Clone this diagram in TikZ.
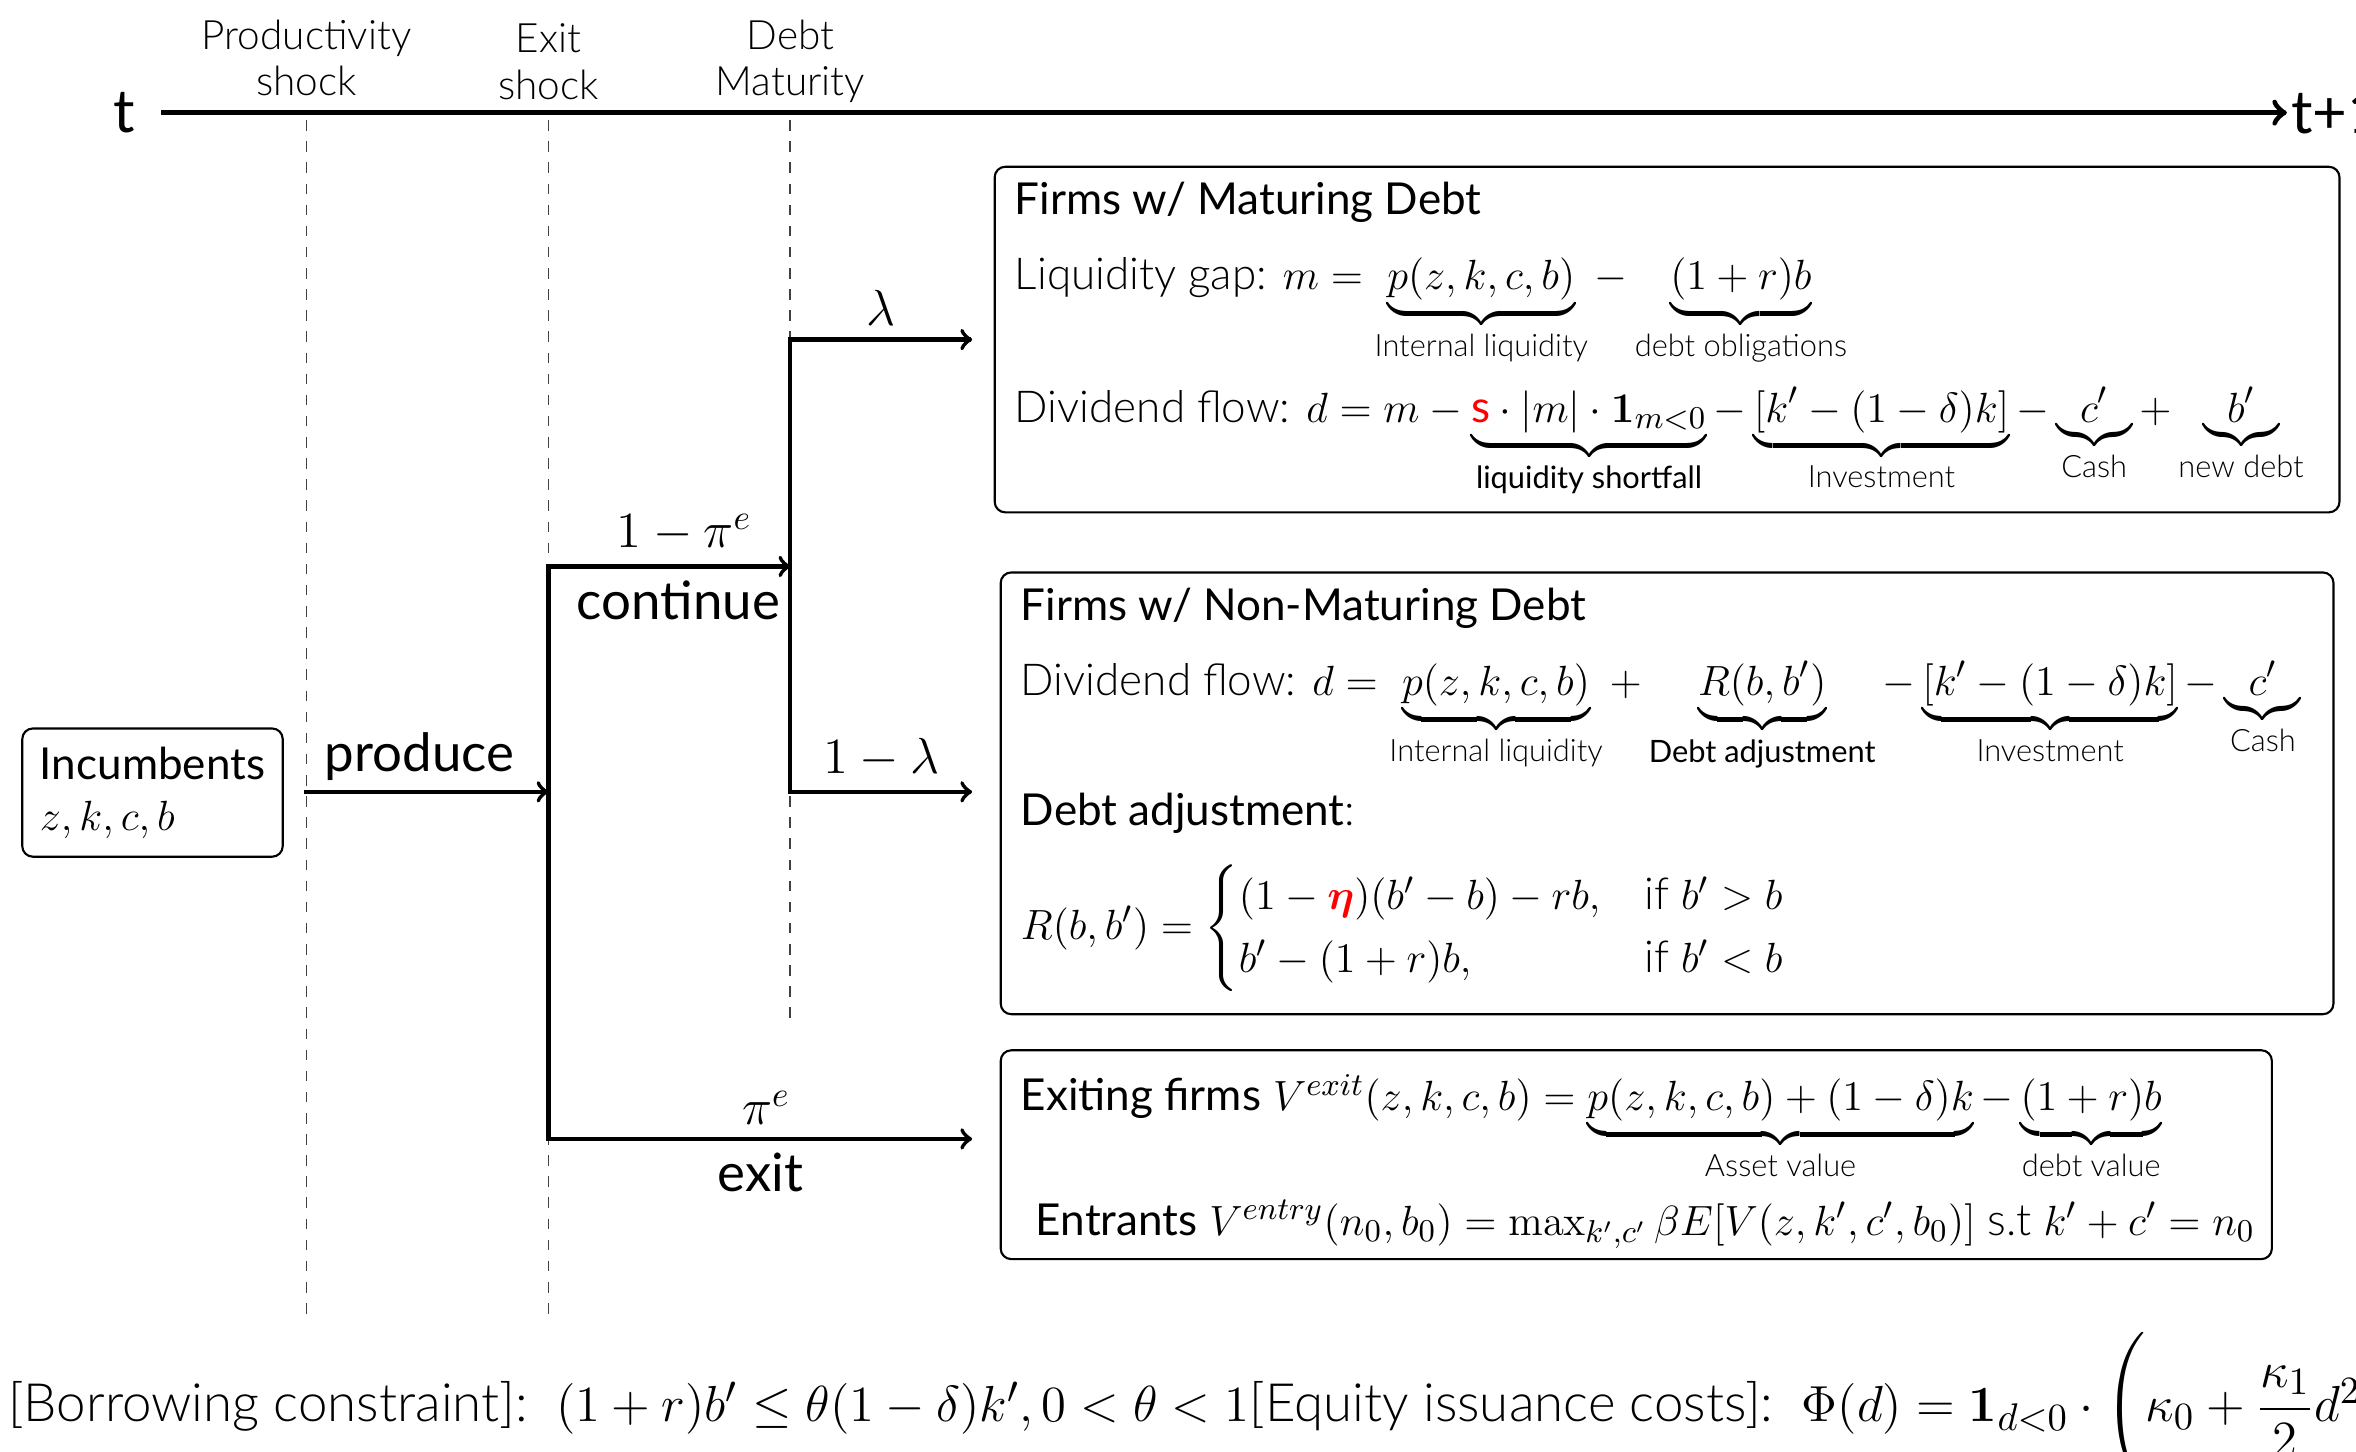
\documentclass[tikz,border=0pt]{standalone}
\usepackage{amsmath}
\usepackage[no-math]{fontspec}
\IfFontExistsTF{Lato Light}
  {\setmainfont{Lato Light}[BoldFont=Lato]}
  {\setmainfont{Lato}}
\usetikzlibrary{arrows,fit}

\tikzset{
  branch/.style={line width=1.2pt,->,line cap=rect},
  timeline/.style={line width=1.6pt,->},
  guide/.style={dashed,line width=0.5pt,black!75},
  panel/.style={draw,rounded corners=3pt,line width=0.6pt,inner sep=0pt},
  row/.style={anchor=base west,inner sep=0pt,font=\fontsize{12.5}{15}\selectfont},
  action/.style={font=\bfseries\fontsize{15}{18}\selectfont},
  prob/.style={inner sep=3.5pt,font=\fontsize{14.4}{17}\selectfont},
  event/.style={align=center,font=\fontsize{11.5}{13.2}\selectfont},
}

\begin{document}
\begin{tikzpicture}[x=1.5cm,y=1.5cm]
  \useasboundingbox (0,0) rectangle (15.68,9.66);
  \clip (0,0) rectangle (15.68,9.66);

  % time axis
  \node[inner sep=7pt,font=\bfseries\fontsize{17}{20}\selectfont] (tnow) at (0.83,8.91) {t};
  \node[anchor=west,inner sep=1pt,font=\bfseries\fontsize{17}{20}\selectfont] (tnext) at (15.22,8.91) {t+1};
  \draw[timeline] (tnow) -- (tnext);

  \node[event] (prodShock) at (2.04,9.275) {Productivity\\shock};
  \node[event] (exitShock) at (3.65,9.25) {Exit\\shock};
  \node[event] (debtMat) at (5.26,9.25) {Debt\\Maturity};

  \draw[guide] (2.04,8.86) -- (2.04,0.86);
  \draw[guide] (3.65,8.86) -- (3.65,0.86);
  \draw[guide] (5.26,8.86) -- (5.26,2.86);

  % incumbents and the branches
  \node[draw,rounded corners=3pt,line width=0.6pt,minimum width=2.6cm,minimum height=1.28cm,
        align=left,font=\bfseries\fontsize{12.5}{14.5}\selectfont] (incumb) at (1.015,4.385)
        {Incumbents\\$z,k,c,b$};

  \coordinate (start) at (2.04,4.39);
  \coordinate (split) at (3.65,4.39);
  \coordinate (cont) at (3.65,5.89);
  \coordinate (quit) at (3.65,2.08);
  \coordinate (mature) at (5.26,5.89);
  \coordinate (matUp) at (5.26,7.40);
  \coordinate (matDown) at (5.26,4.39);
  \coordinate (toMat) at (6.47,7.40);
  \coordinate (toNon) at (6.47,4.39);
  \coordinate (toExit) at (6.47,2.08);

  \draw[branch] (start) -- node[above,action,inner sep=2.5pt,xshift=-0.08cm] (produceLbl) {produce} (split);
  \draw[branch] (quit) -- (cont) -- node[above,prob,xshift=0.15cm] (contProb) {$1-\pi^e$}
                                    node[below,action,xshift=0.09cm] (contLbl) {continue} (mature);
  \draw[branch] (quit) -- node[above,prob,xshift=0.06cm] (exitProb) {$\pi^e$}
                          node[below,action] (exitLbl) {exit} (toExit);
  \draw[branch] (matDown) -- (matUp) -- node[above,prob] (lamProb) {$\lambda$} (toMat);
  \draw[branch] (matDown) -- node[above,prob] (nonProb) {$1-\lambda$} (toNon);

  % firms with maturing debt
  \node[panel,fit={(6.62,8.55) (15.57,6.25)}] (matBox) {};
  \node[row] (matTitle) at (6.75,8.23) {\bfseries Firms w/ Maturing Debt};
  \node[row] (gapRow) at (6.75,7.73) {Liquidity gap: $m=\underbrace{p(z,k,c,b)}_{\text{Internal liquidity}}-\underbrace{(1+r)b}_{\text{debt obligations}}$};
  \node[row] (matDiv) at (6.75,6.85) {Dividend flow: $d=m-\underbrace{\text{\textcolor{red}{\bfseries s}}\cdot|m|\cdot\mathbf{1}_{m<0}}_{\text{\bfseries liquidity shortfall}}-\underbrace{[k'-(1-\delta)k]}_{\text{Investment}}-\underbrace{c'}_{\text{Cash}}+\underbrace{b'}_{\text{new debt}}$};

  % firms with non-maturing debt
  \node[panel,fit={(6.66,5.85) (15.53,2.91)}] (nonBox) {};
  \node[row] (nonTitle) at (6.79,5.53) {\bfseries Firms w/ Non-Maturing Debt};
  \node[row] (nonDiv) at (6.79,5.03) {Dividend flow: $d=\underbrace{p(z,k,c,b)}_{\text{Internal liquidity}}+\underbrace{R(b,b')}_{\text{\bfseries Debt adjustment}}-\underbrace{[k'-(1-\delta)k]}_{\text{Investment}}-\underbrace{c'}_{\text{Cash}}$};
  \node[row] (adjTitle) at (6.79,4.165) {{\bfseries Debt adjustment}:};
  \node[row] (adjRule) at (6.79,3.41) {$R(b,b')=\begin{cases}(1-\textcolor{red}{\boldsymbol{\eta}})(b'-b)-rb, & \text{if } b'>b\\ b'-(1+r)b, & \text{if } b'<b\end{cases}$};

  % exit and entry
  \node[panel,fit={(6.66,2.67) (15.12,1.28)}] (exitBox) {};
  \node[row] (exitRow) at (6.79,2.27) {{\bfseries Exiting firms} $V^{exit}(z,k,c,b)=\underbrace{p(z,k,c,b)+(1-\delta)k}_{\text{Asset value}}-\underbrace{(1+r)b}_{\text{debt value}}$};
  \node[row] (entryRow) at (6.89,1.44) {{\bfseries Entrants} $V^{entry}(n_0,b_0)=\max_{k',c'}\beta E[V(z,k',c',b_0)]$ s.t $k'+c'=n_0$};

  % constraints
  \node[anchor=base west,inner sep=0pt,font=\fontsize{15}{18}\selectfont] (costRow) at (0.05,0.2)
    {[Borrowing constraint]:\ \ $(1+r)b'\le\theta(1-\delta)k',0<\theta<1$[Equity issuance costs]:\ \ $\Phi(d)=\mathbf{1}_{d<0}\cdot\Biggl(\kappa_0+\dfrac{\kappa_1}{2}d^2\Biggr)$};
\end{tikzpicture}
\end{document}
